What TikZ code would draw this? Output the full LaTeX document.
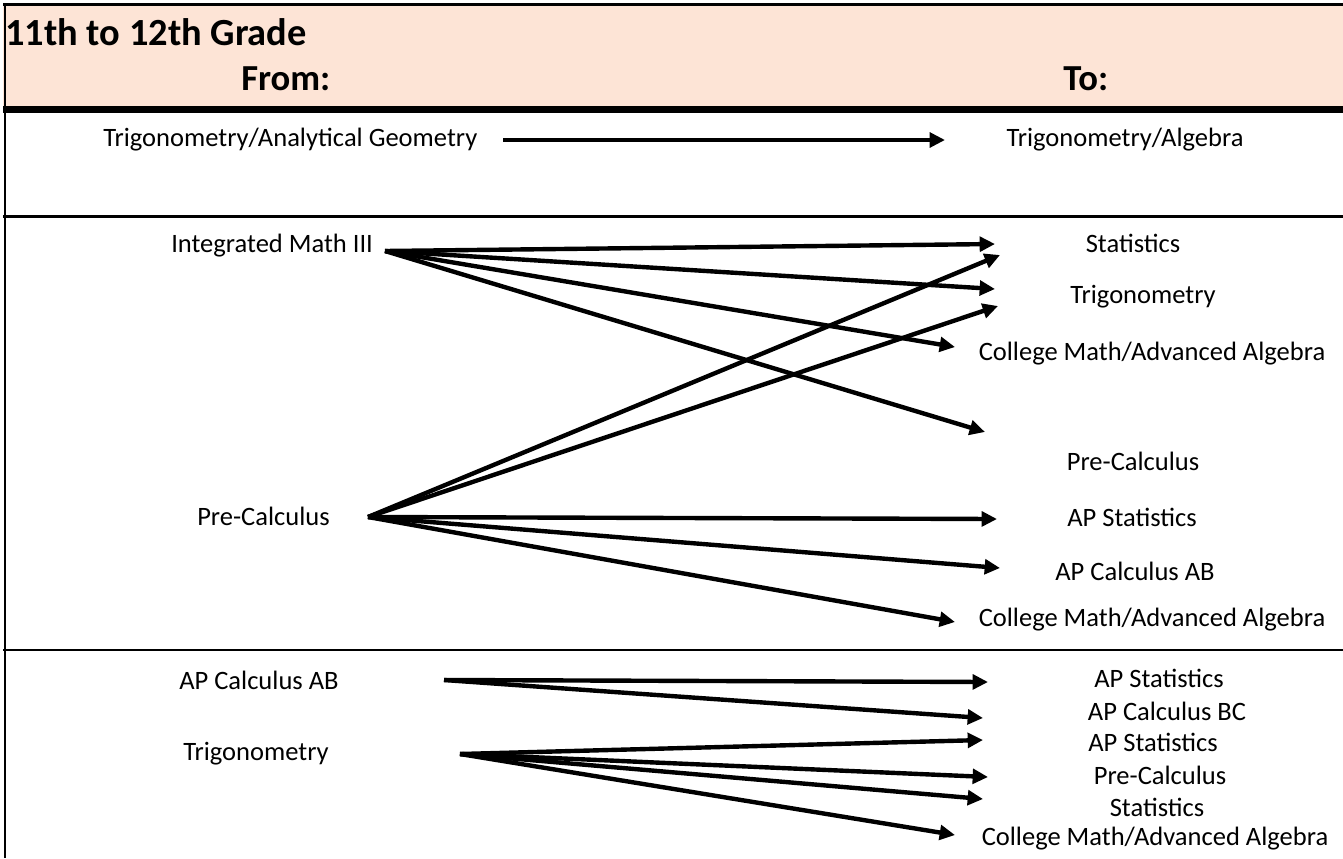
\documentclass[tikz,border=0pt]{standalone}
\usepackage{fontspec}
\setmainfont{Carlito}
\usetikzlibrary{arrows.meta}

\definecolor{headfill}{RGB}{253,228,214}

\tikzset{
  lbl/.style={inner sep=0pt, anchor=base, font=\fontsize{19.9}{24}\selectfont},
  lblw/.style={lbl, anchor=base west},
  hdr/.style={inner sep=0pt, anchor=base west, font=\fontsize{27.5}{32}\selectfont\bfseries},
  flow/.style={line width=3.3pt, -{Triangle[length=11.5pt,width=11pt]}},
  rule/.style={line width=2.2pt}
}

\begin{document}
\begin{tikzpicture}[x=0.75pt,y=-0.75pt]
    \useasboundingbox (0,0) rectangle (1343,858);

    % header band
    \fill[headfill] (3,5) rectangle (1343,107);
    \draw[rule] (3,4.5) -- (1343,4.5);
    \draw[line width=5.2pt] (3,109.5) -- (1343,109.5);
    \draw[rule] (5,3) -- (5,858);
    \draw[rule] (3,216.5) -- (1343,216.5);
    \draw[rule] (3,650) -- (1343,650);

    \node[hdr, font=\fontsize{28.8}{32}\selectfont\bfseries] (title) at (5,45) {11th to 12th Grade};
    \node[hdr] (from) at (241,90) {From:};
    \node[hdr] (to) at (1063,90) {To:};

    % first block
    \node[lblw] (tag) at (103,146) {Trigonometry/Analytical Geometry};
    \node[lbl] (tal) at (1125,146) {Trigonometry/Algebra};
    \coordinate (tago) at (503,140);
    \coordinate (tali) at (945,140);
    \draw[flow] (tago) -- (tali);

    % second block
    \node[lblw] (im3) at (171,252) {Integrated Math III};
    \node[lblw] (pcl) at (197,525) {Pre-Calculus};
    \node[lbl] (st2) at (1133,252) {Statistics};
    \node[lbl] (tr2) at (1143,303) {Trigonometry};
    \node[lbl] (cm2) at (1152,360) {College Math/Advanced Algebra};
    \node[lbl] (pc2) at (1133,470) {Pre-Calculus};
    \node[lbl] (aps2) at (1132,526) {AP Statistics};
    \node[lbl] (apab2) at (1135,580) {AP Calculus AB};
    \node[lbl] (cmb2) at (1152,626) {College Math/Advanced Algebra};

    \coordinate (im3o) at (385,251);
    \coordinate (pclo) at (368,517);
    \draw[flow] (im3o) -- (995,244);
    \draw[flow] (im3o) -- (995,289);
    \draw[flow] (im3o) -- (955,347);
    \draw[flow] (im3o) -- (985,432);
    \draw[flow] (pclo) -- (1000,255);
    \draw[flow] (pclo) -- (998,306);
    \draw[flow] (pclo) -- (997,519);
    \draw[flow] (pclo) -- (1000,568);
    \draw[flow] (pclo) -- (955,622);

    % third block
    \node[lblw] (apab) at (179,689) {AP Calculus AB};
    \node[lblw] (trl) at (183,760) {Trigonometry};
    \node[lbl] (aps3) at (1159,687) {AP Statistics};
    \node[lbl] (apbc3) at (1167,720) {AP Calculus BC};
    \node[lbl] (apsb3) at (1153,751) {AP Statistics};
    \node[lbl] (pc3) at (1160,784) {Pre-Calculus};
    \node[lbl] (st3) at (1157,816) {Statistics};
    \node[lbl] (cm3) at (1155,845) {College Math/Advanced Algebra};

    \coordinate (apabo) at (444,680);
    \coordinate (trlo) at (460,754);
    \draw[flow] (apabo) -- (988,682);
    \draw[flow] (apabo) -- (983,718);
    \draw[flow] (trlo) -- (983,740);
    \draw[flow] (trlo) -- (988,777);
    \draw[flow] (trlo) -- (983,799);
    \draw[flow] (trlo) -- (955,835);
\end{tikzpicture}
\end{document}
